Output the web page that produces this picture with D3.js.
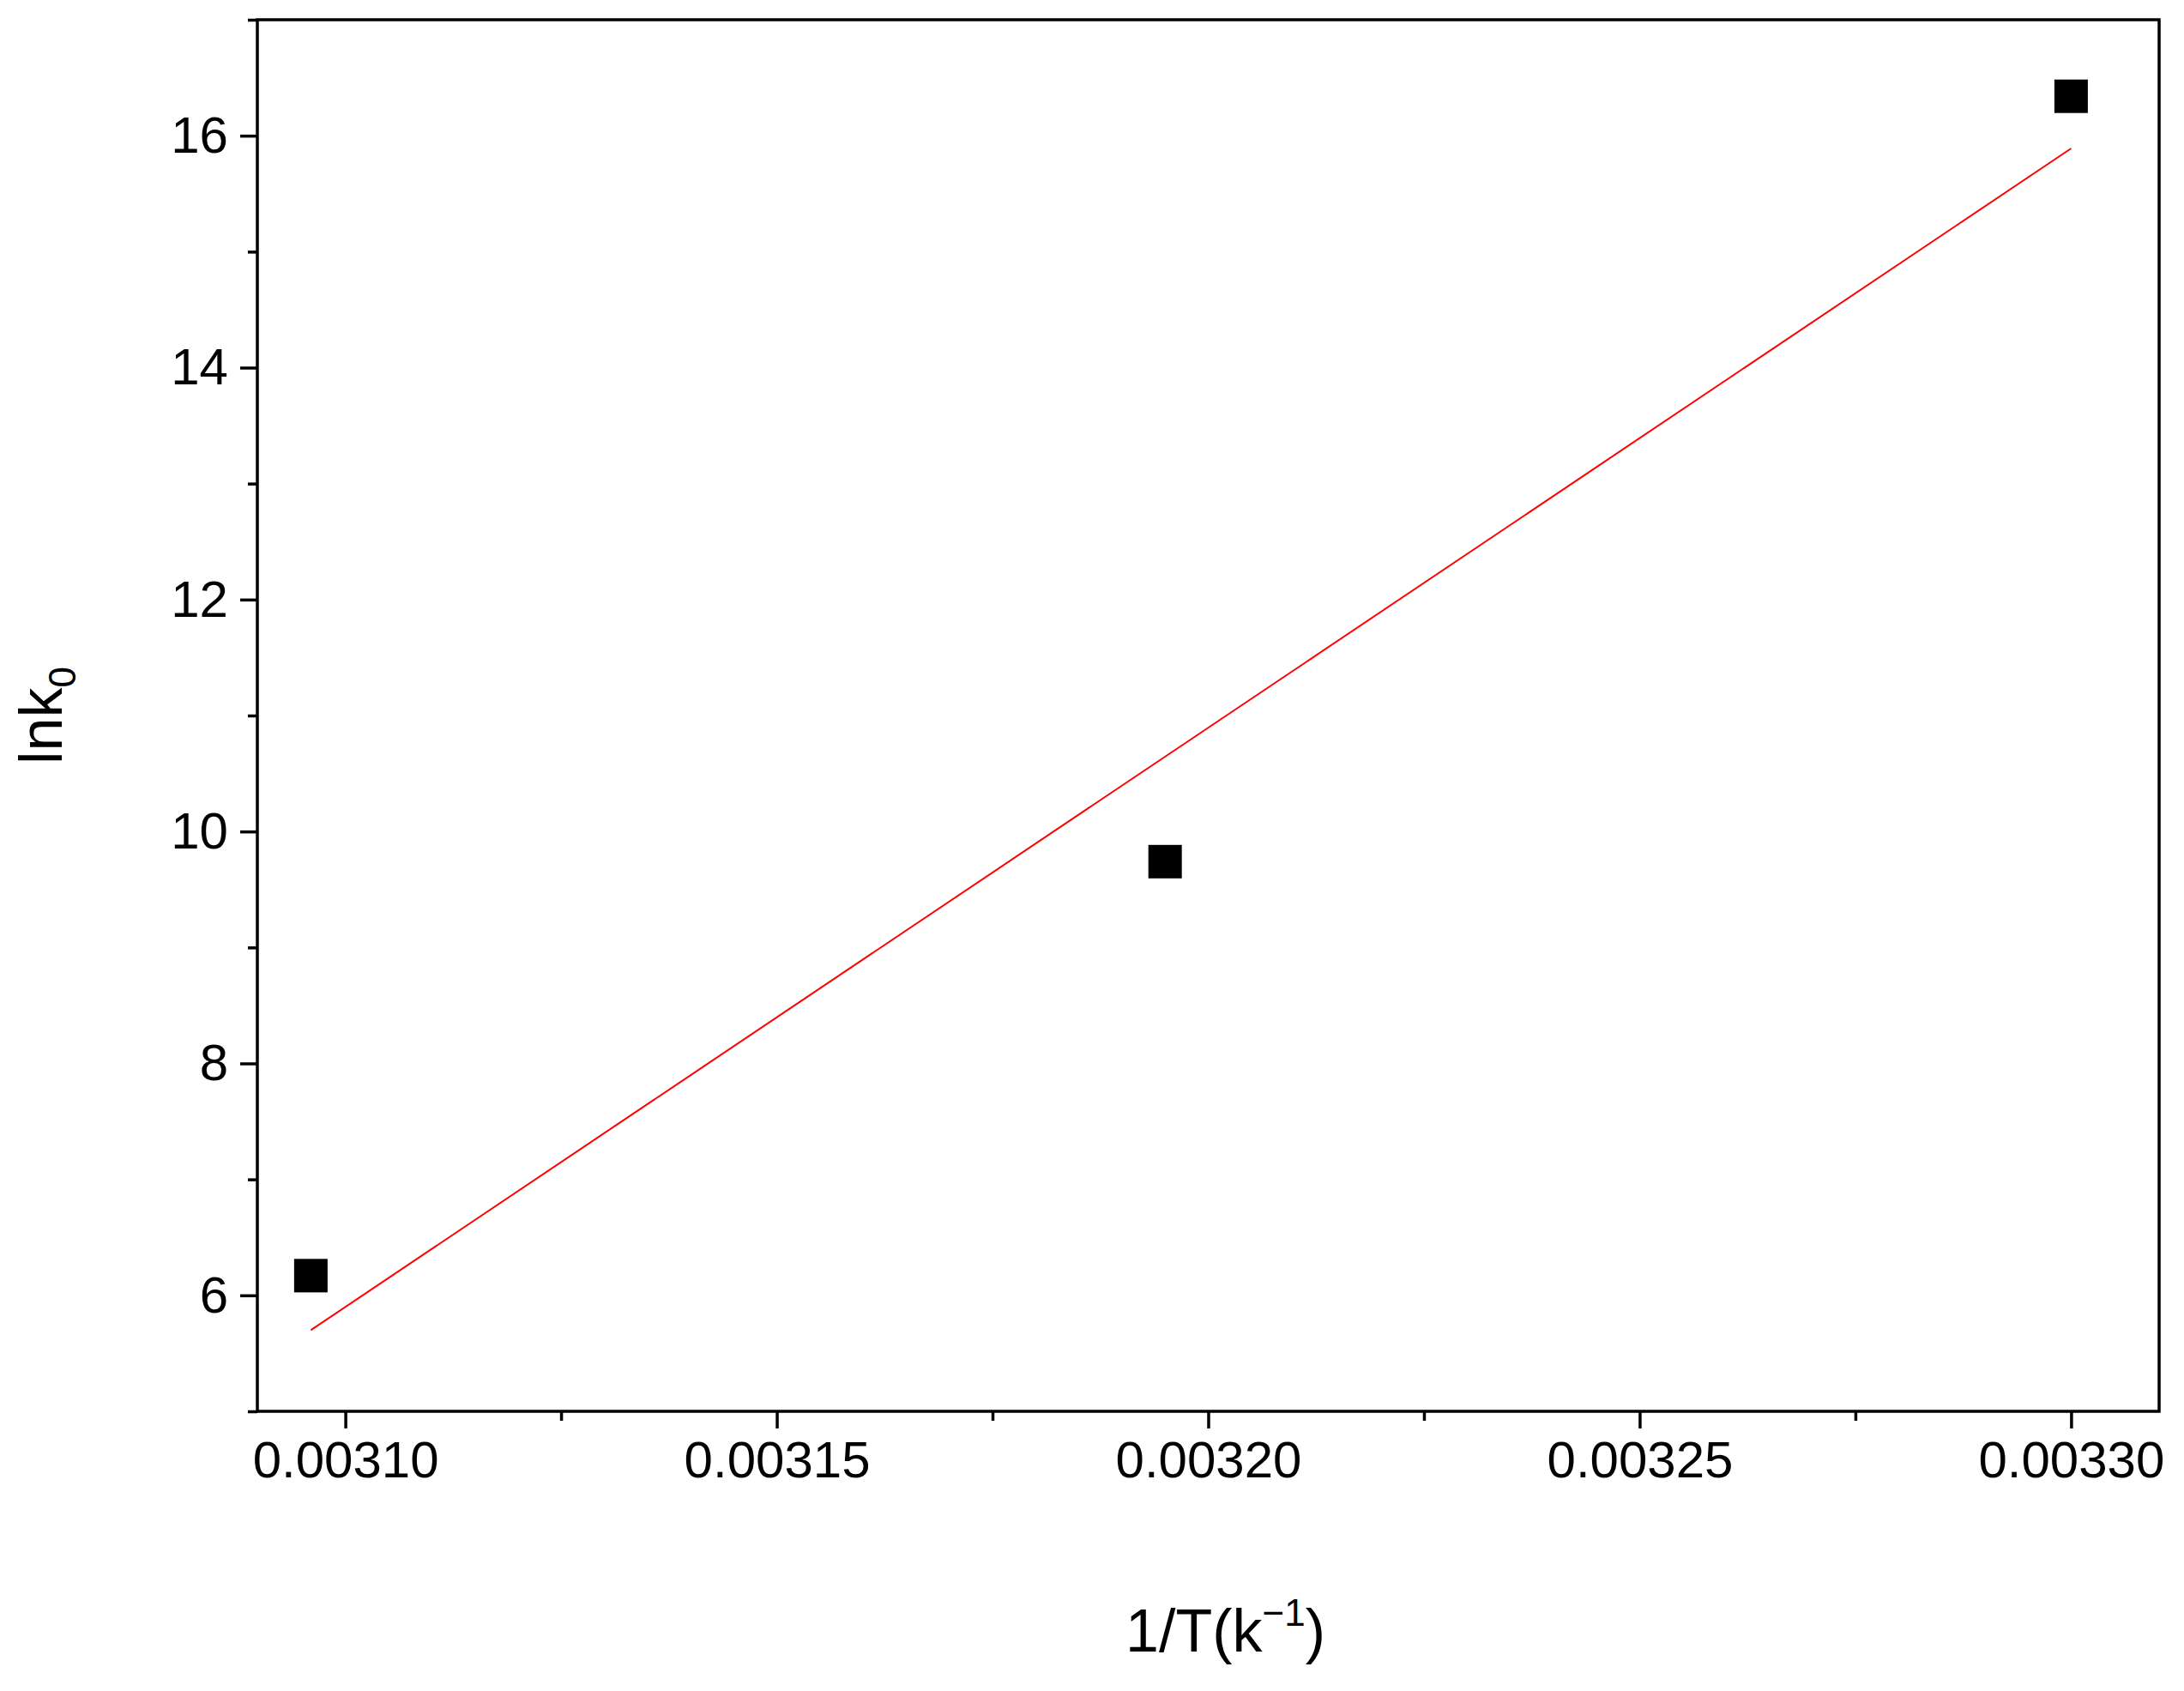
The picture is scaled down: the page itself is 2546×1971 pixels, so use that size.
<!DOCTYPE html>
<html><head><meta charset="utf-8">
<script src="https://cdn.jsdelivr.net/npm/d3@7"></script>
<style>body{margin:0;background:#fff}svg{display:block}</style>
</head><body>
<script>
const xValues=[0.003096,0.003195,0.003300];
const yValues=[6.17,9.74,16.34];
const fitX=[0.003096,0.003300];
const fitY=[5.70,15.89];
const xTicks=[0.00310,0.00315,0.00320,0.00325,0.00330];
const yTicks=[6,8,10,12,14,16];

const W=2546,H=1971,L=300,R=2517,T=23,B=1645;
const svg=d3.select("body").append("svg").attr("width",W).attr("height",H);
const x=d3.scaleLinear().domain([0.0030898,0.0033102]).range([L,R]);
const y=d3.scaleLinear().domain([5,17]).range([B,T]);
const font="Liberation Sans, Arial, sans-serif";

svg.append("rect").attr("x",L).attr("y",T).attr("width",R-L).attr("height",B-T)
 .attr("fill","none").attr("stroke","#000").attr("stroke-width",3.5);

const xa=svg.append("g").attr("transform",`translate(0,${B})`)
 .call(d3.axisBottom(x).tickValues(xTicks).tickFormat(d3.format(".5f")).tickSize(20).tickPadding(14));
const xm=svg.append("g").attr("transform",`translate(0,${B})`)
 .call(d3.axisBottom(x).tickValues([0.003125,0.003175,0.003225,0.003275]).tickFormat("").tickSize(11));
const ya=svg.append("g").attr("transform",`translate(${L},0)`)
 .call(d3.axisLeft(y).tickValues(yTicks).tickSize(20).tickPadding(14));
const ym=svg.append("g").attr("transform",`translate(${L},0)`)
 .call(d3.axisLeft(y).tickValues([5,7,9,11,13,15,17]).tickFormat("").tickSize(11));
[xa,xm,ya,ym].forEach(g=>{g.select(".domain").remove();g.selectAll("line").attr("stroke","#000").attr("stroke-width",3.5);
 g.selectAll("text").attr("font-family",font).attr("font-size",60).attr("fill","#000");});

svg.append("path").datum(d3.zip(fitX,fitY))
 .attr("d",d3.line().x(d=>x(d[0])).y(d=>y(d[1])))
 .attr("stroke","#ff0000").attr("stroke-width",2).attr("fill","none");

const s=39;
svg.selectAll("rect.pt").data(d3.zip(xValues,yValues)).enter().append("rect")
 .attr("x",d=>x(d[0])-s/2).attr("y",d=>y(d[1])-s/2).attr("width",s).attr("height",s).attr("fill","#000");

const xt=svg.append("text").attr("x",(L+R)/2+20).attr("y",1925).attr("text-anchor","middle")
 .attr("font-family",font).attr("font-size",70);
xt.append("tspan").text("1/T(k");
xt.append("tspan").text("−1").attr("font-size",44).attr("dy",-30);
xt.append("tspan").text(")").attr("dy",30);

const yt=svg.append("text").attr("transform",`translate(72,${(T+B)/2}) rotate(-90)`).attr("text-anchor","middle")
 .attr("font-family",font).attr("font-size",70);
yt.append("tspan").text("lnk");
yt.append("tspan").text("0").attr("font-size",44).attr("dy",16);
</script>
</body></html>
